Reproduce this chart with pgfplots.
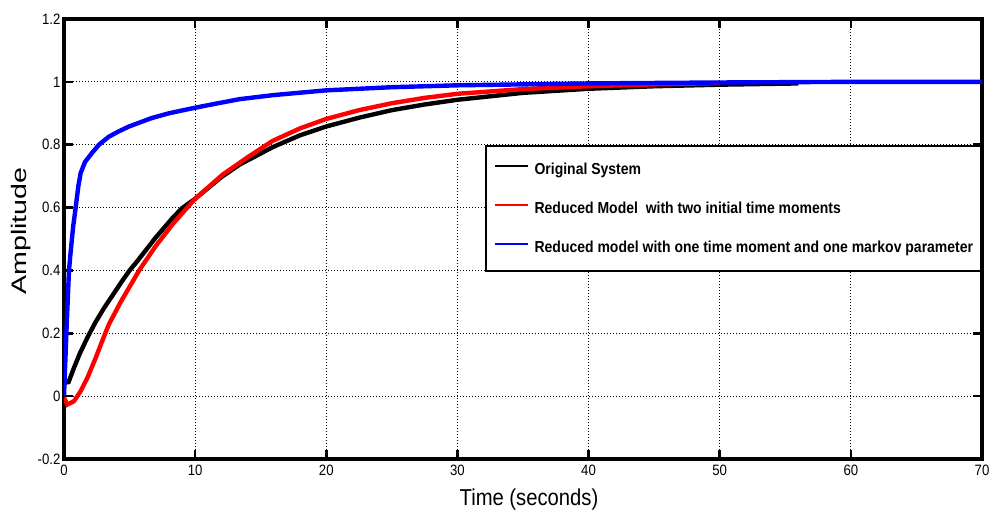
\documentclass[border=0pt]{standalone}
\usepackage{fontspec}
\setmainfont{Liberation Sans}[FakeStretch=0.88]
\usepackage{pgfplots}
\pgfplotsset{compat=1.18}
\usepackage{graphicx}

\begin{document}
\begin{tikzpicture}
% frame of the page, 1pt = 1px of the reference
\path[use as bounding box] (-64pt,-58pt) rectangle (931pt,459pt);
\begin{axis}[
    scale only axis,
    width=918pt, height=440pt,
    axis line style={line width=3.4pt},
    xmin=0, xmax=70,
    ymin=-0.2, ymax=1.2,
    xtick={0,10,...,70},
    ytick={-0.2,0,0.2,0.4,0.6,0.8,1,1.2},
    /pgf/number format/assume math mode=true,
    tick label style={font=\fontsize{15}{18}\selectfont},
    xticklabel style={yshift=-2pt},
    tick align=inside,
    major tick length=9pt,
    tick style={black, line width=2.6pt},
    grid=major,
    grid style={black, line width=1.2pt, dash pattern=on 1.4pt off 1.6pt},
    xlabel={Time (seconds)},
    xlabel style={font=\fontsize{23}{26}\selectfont, yshift=-7pt, xshift=6pt},
    ylabel={\scalebox{1.55}[1]{Amplitude}},
    ylabel style={font=\fontsize{21}{24}\selectfont, at={(axis description cs:-0.047,0.518)}, anchor=center},
    legend cell align=left,
    legend image code/.code={\draw[#1, line width=1.4pt] (0pt,3.5pt) -- (33pt,3.5pt);},
    legend style={
        at={(axis description cs:1,0.7136)}, anchor=north east,
        font=\fontsize{15.9}{18}\bfseries\selectfont,
        draw=black, line width=1.8pt, fill=white,
        inner xsep=8pt, inner ysep=17pt,
        row sep=26pt, column sep=6pt,
        nodes={inner sep=0pt},
    },
]

% Original System
\addplot[black, line width=4.4pt] coordinates {
    (0,0.05) (0.13,0.043) (0.35,0.045) (0.76,0.09) (1.2,0.135) (1.78,0.186)
    (2.4,0.235) (3.05,0.28) (4.33,0.36) (5,0.4) (5.6,0.43) (7,0.505)
    (8.3,0.568) (9,0.598) (10,0.628) (12,0.697) (13.4,0.737) (15.9,0.792)
    (18,0.83) (20,0.858) (22.5,0.886) (25,0.91) (27.5,0.928) (30,0.943)
    (35,0.965) (40,0.978) (45,0.986) (50,0.991) (56,0.995)
};
\addlegendentry{Original System}

% Reduced model, two time moments
\addplot[red, line width=4.4pt] coordinates {
    (0,-0.005) (0.25,-0.027) (0.76,-0.016) (1.27,0.016) (1.78,0.058)
    (2.4,0.12) (3.05,0.19) (3.43,0.229) (4.33,0.3) (5.73,0.4) (7,0.478)
    (8.3,0.548) (9.4,0.6) (10,0.628) (12.1,0.705) (14,0.76) (15.9,0.812)
    (18,0.852) (20,0.882) (22.5,0.91) (25,0.932) (27.5,0.949) (30,0.962)
    (35,0.977) (40,0.986) (45,0.992) (50,0.996)
};
\addlegendentry{Reduced Model\ \ with two initial time moments}

% Reduced model, time moment + markov parameter
\addplot[blue, line width=4.4pt] coordinates {
    (0,0) (0.2,0.22) (0.38,0.4) (0.51,0.46) (0.7,0.54) (0.89,0.6) (1.1,0.67)
    (1.27,0.71) (1.6,0.745) (2.16,0.775) (2.67,0.8) (3.4,0.825) (4.2,0.843)
    (4.96,0.858) (6.7,0.885) (8,0.9) (9.8,0.916) (11.5,0.93) (13.4,0.945)
    (16,0.958) (20,0.973) (25,0.983) (30,0.989) (40,0.995) (50,0.998)
    (60,1.0) (70,1.0)
};
\addlegendentry{Reduced model with one time moment and one markov parameter}

\end{axis}
\end{tikzpicture}
\end{document}
